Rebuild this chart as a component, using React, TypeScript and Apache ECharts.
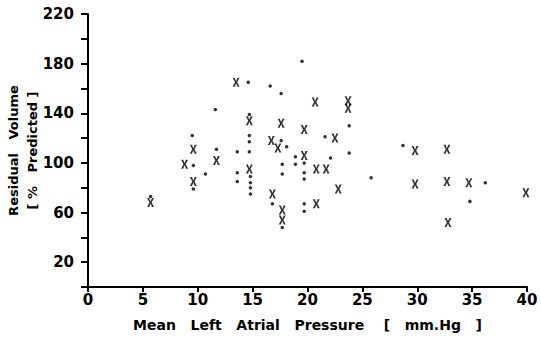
import React, { useEffect, useRef } from "react";
import * as echarts from "echarts";

// Mean left atrial pressure (mm Hg) vs residual volume (% predicted)
const crossPoints: [number, number][] = [
  [5.7, 68], [8.8, 99], [9.6, 85], [9.6, 111], [11.7, 102], [13.5, 165],
  [14.7, 134], [14.7, 95], [16.7, 118], [16.8, 75], [17.3, 112], [17.6, 132],
  [17.7, 62], [17.7, 54], [19.7, 127], [19.7, 106], [20.7, 149], [20.8, 95],
  [20.8, 67], [21.7, 95], [22.5, 120], [22.8, 79], [23.7, 150], [23.7, 144],
  [29.8, 110], [29.8, 83], [32.7, 111], [32.7, 85], [32.8, 52], [34.7, 84],
  [39.9, 76],
];

const dotPoints: [number, number][] = [
  [5.7, 73], [9.5, 122], [9.6, 98], [9.6, 79], [10.7, 91], [11.6, 143],
  [11.7, 111], [13.6, 109], [13.6, 92], [13.6, 85], [14.6, 165], [14.7, 139],
  [14.7, 122], [14.7, 117], [14.7, 109], [14.8, 89], [14.8, 84], [14.8, 80],
  [14.8, 75], [16.6, 162], [16.8, 67], [17.6, 156], [17.6, 118], [17.7, 99],
  [17.7, 91], [17.7, 48], [18.1, 113], [18.9, 105], [18.9, 99], [19.5, 182],
  [19.7, 100], [19.7, 92], [19.7, 87], [19.7, 67], [19.7, 61], [21.6, 121],
  [22.1, 104], [23.8, 130], [23.8, 108], [25.8, 88], [28.7, 114], [34.8, 69],
  [36.2, 84],
];

const NB = "\u00a0";
const sp = (n: number) => NB.repeat(n);
const xAxisTitle = "Mean" + sp(3) + "Left" + sp(3) + "Atrial" + sp(3) + "Pressure" + sp(4) + "[" + sp(3) + "mm.Hg" + sp(3) + "]";
const yAxisTitleLine1 = "Residual" + sp(3) + "Volume";
const yAxisTitleLine2 = "[" + sp(1) + "%" + sp(3) + "Predicted" + sp(1) + "]";

const xMin = 0, xMax = 40, xStep = 5;
const yMin = 0, yMax = 220, yStep = 20;
const yLabelValues = [20, 60, 100, 140, 180, 220];

const FONT = "'DejaVu Sans', sans-serif";
const crossSymbol =
  "path://M0,0 L3,0 L5,4.5 L7,0 L10,0 L6.6,6 L10,12 L7,12 L5,7.5 L3,12 L0,12 L3.4,6 Z";

export default function App() {
  const ref = useRef<HTMLDivElement>(null);
  useEffect(() => {
    if (!ref.current) return;
    const chart = echarts.init(ref.current, undefined, { renderer: "svg" });
    chart.setOption({
      animation: false,
      backgroundColor: "#ffffff",
      grid: {
        left: 88, right: 14, top: 14, bottom: 50,
        containLabel: false,
        outerBoundsMode: "none",
      },
      xAxis: {
        type: "value",
        min: xMin,
        max: xMax,
        interval: xStep,
        name: xAxisTitle,
        nameLocation: "middle",
        nameGap: 31,
        nameMoveOverlap: false,
        nameTextStyle: { fontFamily: FONT, fontWeight: "bold", fontSize: 14, color: "#000" },
        axisLine: { show: true, onZero: false, lineStyle: { color: "#000", width: 2 } },
        axisTick: { show: true, inside: false, length: 5, lineStyle: { color: "#000", width: 2 } },
        axisLabel: { margin: 5, fontFamily: FONT, fontWeight: "bold", fontSize: 15, color: "#000" },
        splitLine: { show: false },
      },
      yAxis: {
        type: "value",
        min: yMin,
        max: yMax,
        interval: yStep,
        name: yAxisTitleLine1 + "\n" + yAxisTitleLine2,
        nameLocation: "middle",
        nameRotate: 90,
        nameGap: 46,
        nameMoveOverlap: false,
        nameTextStyle: {
          fontFamily: FONT, fontWeight: "bold", fontSize: 13, color: "#000", lineHeight: 19,
        },
        axisLine: { show: true, onZero: false, lineStyle: { color: "#000", width: 2 } },
        axisTick: { show: true, inside: false, length: 7, lineStyle: { color: "#000", width: 2 } },
        axisLabel: {
          margin: 14,
          fontFamily: FONT,
          fontWeight: "bold",
          fontSize: 15,
          color: "#000",
          formatter: (v: number) => (yLabelValues.indexOf(v) >= 0 ? String(v) : ""),
        },
        splitLine: { show: false },
      },
      series: [
        {
          name: "cross",
          type: "scatter",
          data: crossPoints,
          symbol: crossSymbol,
          symbolSize: [7, 9],
          itemStyle: { color: "#000" },
          z: 3,
        },
        {
          name: "dot",
          type: "scatter",
          data: dotPoints,
          symbol: "circle",
          symbolSize: 3.5,
          itemStyle: { color: "#000" },
          z: 2,
        },
      ],
    });
    return () => chart.dispose();
  }, []);
  return (
    <div
      ref={ref}
      style={{ position: "fixed", left: 0, top: 0, width: 541, height: 337, background: "#fff" }}
    />
  );
}
